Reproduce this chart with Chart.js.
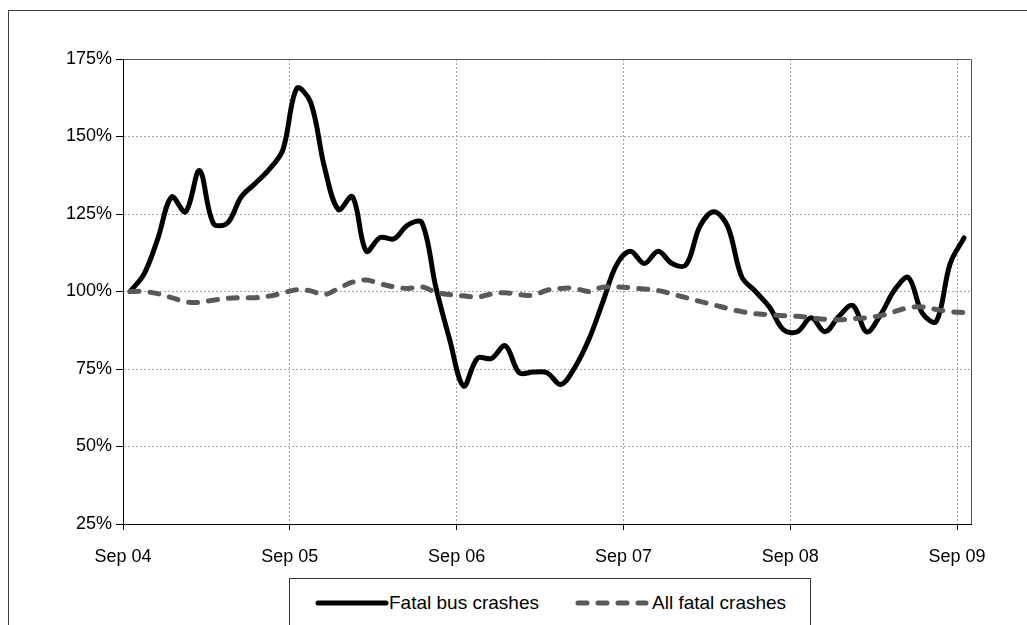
<!DOCTYPE html>
<html>
<head>
<meta charset="utf-8">
<script src="https://cdn.jsdelivr.net/npm/chart.js@4.4.1/dist/chart.umd.min.js"></script>
<style>
  body { margin: 0; background: #fff; overflow: hidden; }
  #wrap { position: relative; width: 1027px; height: 625px; overflow: hidden; font-family: "Liberation Sans", Arial, sans-serif; }
  #frame { position: absolute; left: 8px; top: 10px; width: 1100px; height: 700px; border-left: 1px solid #404040; border-top: 1px solid #404040; }
  #chart { position: absolute; left: 0; top: 0; }
  #legend { position: absolute; left: 289px; top: 578px; width: 520px; height: 70px; border: 1px solid #333; background: #fff; }
  #legend svg { position: absolute; top: 19px; }
  #legend span { position: absolute; top: 13px; font-size: 19px; color: #000; white-space: nowrap; }
</style>
</head>
<body>
<div id="wrap">
  <div id="frame"></div>
  <canvas id="chart" width="1027" height="625"></canvas>
  <div id="legend">
    <svg style="left:25px" width="74" height="10"><line x1="3" y1="5" x2="71" y2="5" stroke="#000" stroke-width="5" stroke-linecap="round"/></svg>
    <span style="left:99px">Fatal bus crashes</span>
    <svg style="left:285px" width="74" height="10"><line x1="3" y1="5" x2="71" y2="5" stroke="#595959" stroke-width="5" stroke-linecap="round" stroke-dasharray="9 11"/></svg>
    <span style="left:362px">All fatal crashes</span>
  </div>
</div>
<script>
// monthly index, Sep 2004 .. Sep 2009 (100% = Sep 2004 level)
const busCrashes = [
  100, 105.5, 117, 130.5, 125.7, 139, 122, 122, 130.5, 134.8,
  139.3, 145.7, 165.5, 161, 140, 126.4, 130.6, 113, 117.4, 117,
  121.5, 122.2, 101.5, 84.5, 69.5, 78.5, 78.4, 82.5, 73.8, 74,
  73.8, 70, 75.5, 84.4, 96.4, 108.6, 113, 109, 113, 109,
  108.6, 121, 125.7, 121, 104.8, 100, 95, 87.7, 87, 91.5,
  87, 92, 95.5, 87, 92.5, 100.5, 104.5, 93, 90.3, 109,
  117.3
];
const allCrashes = [
  100, 100, 99.3, 98, 96.7, 96.5, 97.2, 97.8, 98, 98,
  98.5, 99.5, 100.6, 100.2, 99, 101, 103, 103.7, 102.5, 101.5,
  101, 101.5, 99.8, 99, 98.6, 98.2, 99.2, 99.6, 99, 98.8,
  100.4, 101, 101, 100, 101.4, 101.5, 101.2, 100.8, 100.3, 99.2,
  98, 96.8, 95.7, 94.5, 93.5, 92.8, 92.5, 92.2, 92, 91.5,
  91, 90.9, 91.2, 91.5, 92.2, 93.5, 94.8, 95, 94.2, 93.5,
  93.2
];
const tickMonths = [0, 12, 24, 36, 48, 60];
const tickLabels = ['Sep 04', 'Sep 05', 'Sep 06', 'Sep 07', 'Sep 08', 'Sep 09'];
const yTicks = [25, 50, 75, 100, 125, 150, 175];

// points sit in the middle of each month
const toPoints = arr => arr.map((v, i) => ({ x: i + 0.5, y: v }));

const plotBorder = {
  id: 'plotBorder',
  afterDatasetsDraw(chart) {
    const a = chart.chartArea, ctx = chart.ctx;
    ctx.save();
    ctx.strokeStyle = '#555';
    ctx.lineWidth = 1;
    ctx.beginPath();
    ctx.moveTo(a.left, a.top + 0.5);
    ctx.lineTo(Math.round(a.right) + 0.5, a.top + 0.5);
    ctx.lineTo(Math.round(a.right) + 0.5, a.bottom);
    ctx.stroke();
    ctx.restore();
  }
};

Chart.defaults.font.family = '"Liberation Sans", Arial, sans-serif';
Chart.defaults.font.size = 18;
Chart.defaults.color = '#000';

new Chart(document.getElementById('chart'), {
  type: 'line',
  data: {
    datasets: [
      {
        label: 'All fatal crashes',
        data: toPoints(allCrashes),
        borderColor: '#595959',
        borderWidth: 5,
        borderDash: [9, 11],
        borderCapStyle: 'round',
        borderJoinStyle: 'round',
        pointRadius: 0,
        tension: 0.35
      },
      {
        label: 'Fatal bus crashes',
        data: toPoints(busCrashes),
        borderColor: '#000',
        borderWidth: 5,
        borderCapStyle: 'round',
        borderJoinStyle: 'round',
        pointRadius: 0,
        tension: 0.35
      }
    ]
  },
  options: {
    responsive: false,
    animation: false,
    layout: { padding: { left: 0, top: 59, right: 56, bottom: 0 } },
    plugins: { legend: { display: false }, tooltip: { enabled: false } },
    scales: {
      x: {
        type: 'linear',
        min: 0,
        max: 61,
        afterBuildTicks: s => { s.ticks = tickMonths.map(v => ({ value: v })); },
        afterFit: s => { s.height = 101; },
        ticks: {
          maxRotation: 0,
          padding: 16,
          callback: v => tickLabels[tickMonths.indexOf(v)]
        },
        grid: { color: '#a6a6a6', tickColor: '#000', tickLength: 6, lineWidth: 1 },
        border: { color: '#000', width: 1, dash: [2, 2] }
      },
      y: {
        min: 25,
        max: 175,
        afterBuildTicks: s => { s.ticks = yTicks.map(v => ({ value: v })); },
        afterFit: s => { s.width = 123; },
        ticks: { padding: 4, callback: v => v + '%' },
        grid: { color: '#a6a6a6', tickColor: '#000', tickLength: 7, lineWidth: 1 },
        border: { color: '#000', width: 1, dash: [2, 2] }
      }
    }
  },
  plugins: [plotBorder]
});
</script>
</body>
</html>
